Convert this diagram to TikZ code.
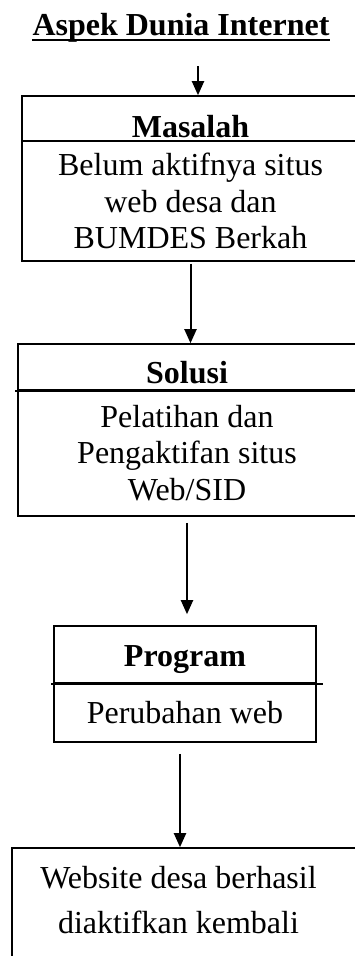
\documentclass[tikz,border=0pt]{standalone}
\usepackage{fontspec}
\setmainfont{Liberation Serif}
\usetikzlibrary{arrows.meta, positioning, calc}
\newcommand{\boxfont}{\fontsize{32}{36.8}\selectfont}
\tikzset{
  hdrbox/.style={rectangle, draw, line width=1.6pt, inner sep=0pt,
    font=\boxfont\bfseries},
  bodybox/.style={rectangle, draw, line width=1.6pt, inner sep=0pt,
    align=center, font=\boxfont},
  flowarr/.style={-{Triangle[length=14pt,width=12pt]}, line width=2pt}
}
\begin{document}
\begin{tikzpicture}[x=1pt, y=-1pt]
  \useasboundingbox (0,0) rectangle (355,956);
  \clip (0,0) rectangle (355,956);

  %% TITLE
  \node[inner sep=0pt, anchor=base, font=\boxfont\bfseries]
    (title) at (181,35) {Aspek Dunia Internet};
  \draw[line width=1.6pt] ([yshift=-5pt]title.base west) -- ([yshift=-5pt]title.base east);
  \coordinate (start) at (198,66);

  %% MASALAH
  \node[hdrbox, minimum width=337pt, minimum height=45pt,
        text height=41pt, text depth=4pt] (masalahhdr)
    at (190.5,118.5) {Masalah};
  \node[bodybox, minimum width=337pt, minimum height=120pt] (masalahbody)
    at (190.5,201) {Belum aktifnya situs\\web desa dan\\BUMDES Berkah};

  %% SOLUSI
  \node[hdrbox, minimum width=338pt, minimum height=46pt,
        text height=39pt, text depth=7pt] (solusihdr)
    at (187,367) {Solusi};
  \node[bodybox, minimum width=338pt, minimum height=126pt] (solusibody)
    at (187,453) {Pelatihan dan\\Pengaktifan situs\\Web/SID};
  \draw[line width=1.6pt] ([xshift=-2pt]solusihdr.south west) -- (solusihdr.south east);

  %% PROGRAM
  \node[hdrbox, minimum width=262pt, minimum height=57pt,
        text height=40pt, text depth=17pt] (proghdr)
    at (185,654.5) {Program};
  \node[bodybox, minimum width=262pt, minimum height=59pt] (progbody)
    at (185,712.5) {Perubahan web};
  \draw[line width=1.6pt] ([xshift=-2pt]proghdr.south west) -- ([xshift=6pt]proghdr.south east);

  %% HASIL
  \node[bodybox, minimum width=352pt, minimum height=132pt] (result)
    at (188,914) {};
  \node[align=center, inner sep=0pt, font=\boxfont] (resulttext) at (178.5,900)
    {Website desa berhasil\\[8pt]diaktifkan kembali};

  %% ARROWS
  \draw[flowarr] (start) -- (start |- masalahhdr.north);
  \draw[flowarr, shorten <=2pt] (masalahbody.south) -- (masalahbody.south |- solusihdr.north);
  \draw[flowarr, shorten <=6pt, shorten >=11pt] (solusibody.south) -- (solusibody.south |- proghdr.north);
  \draw[flowarr, shorten <=11pt] ([xshift=-5pt]progbody.south) -- ([xshift=-5pt]progbody.south |- result.north);
\end{tikzpicture}
\end{document}
